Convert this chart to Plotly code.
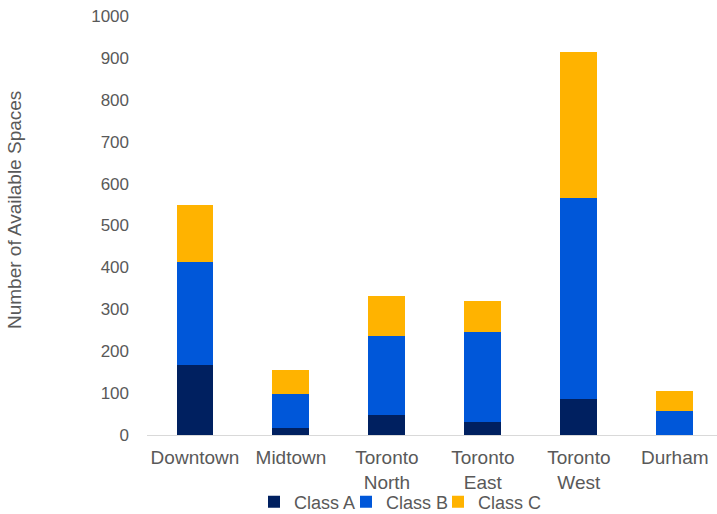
import plotly.graph_objects as go

# Available spaces by region and building class
regions = ["Downtown", "Midtown", "Toronto<br>North", "Toronto<br>East", "Toronto<br>West", "Durham"]
class_a = [166, 16, 47, 31, 85, 0]
class_b = [246, 81, 189, 216, 481, 58]
class_c = [138, 58, 95, 74, 347, 46]

series = [
    ("Class A", class_a, "#002060"),
    ("Class B", class_b, "#0057D9"),
    ("Class C", class_c, "#FFB300"),
]

FONT = "Liberation Sans, Arial, sans-serif"
GREY = "#595959"

# one small legend per series so the entries sit close together
legend_ids = ["legend", "legend2", "legend3"]
legend_left_px = [254, 346, 438]

fig = go.Figure()
for (name, vals, color), lg in zip(series, legend_ids):
    fig.add_trace(go.Bar(
        x=regions, y=vals, name=name, legend=lg,
        marker=dict(color=color, line=dict(width=0)),
    ))

legend_common = dict(
    orientation="h",
    xref="container", yref="container",
    xanchor="left", y=12 / 514, yanchor="middle",
    font=dict(size=18, color=GREY),
    itemwidth=30,
    bgcolor="rgba(0,0,0,0)",
)

layout_legends = {
    lg: dict(legend_common, x=px / 717)
    for lg, px in zip(legend_ids, legend_left_px)
}

fig.update_layout(
    width=717, height=514,
    margin=dict(l=147, r=0, t=16, b=79, autoexpand=False),
    barmode="stack",
    bargap=0.615,
    plot_bgcolor="white",
    paper_bgcolor="white",
    font=dict(family=FONT, color=GREY, size=17),
    showlegend=True,
    xaxis=dict(
        range=[-0.5, 5.44],
        automargin=False,
        showline=True, linecolor="#D9D9D9", linewidth=1,
        showgrid=False, ticks="",
        tickfont=dict(size=19, color=GREY),
        ticklabelstandoff=5,
    ),
    yaxis=dict(
        range=[0, 1000], dtick=100,
        automargin=False,
        showline=False, showgrid=False, zeroline=False, ticks="",
        tickfont=dict(size=17, color=GREY),
        ticklabelstandoff=17,
    ),
    annotations=[dict(
        text="Number of Available Spaces",
        xref="paper", yref="paper",
        x=(15 - 147) / 570, y=(435 - 210) / 419,
        textangle=-90, showarrow=False,
        font=dict(size=19, color=GREY),
        xanchor="center", yanchor="middle",
    )],
    **layout_legends,
)

fig.write_html("out.html")
